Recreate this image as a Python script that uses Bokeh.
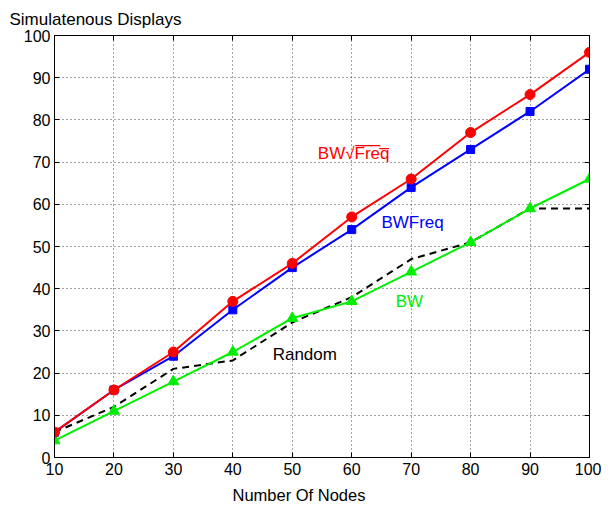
from bokeh.plotting import figure
from bokeh.models import LinearAxis, Range1d, FixedTicker, Label, Title
from bokeh.embed import file_html
from bokeh.resources import INLINE

nodes = [10, 20, 30, 40, 50, 60, 70, 80, 90, 100]
bw_sqrt_freq = [6, 16, 25, 37, 46, 57, 66, 77, 86, 96]
bw_freq = [6, 16, 24, 35, 45, 54, 64, 73, 82, 92]
bw = [4, 11, 18, 25, 33, 37, 44, 51, 59, 66]
random_ = [6, 12, 21, 23, 32, 38, 47, 51, 59, 59]

x_ticks = [10, 20, 30, 40, 50, 60, 70, 80, 90, 100]
y_ticks = [0, 10, 20, 30, 40, 50, 60, 70, 80, 90, 100]

FONT = "Liberation Sans"
GREEN = "#00ee00"

p = figure(frame_width=535, frame_height=422, output_backend="svg", toolbar_location=None,
           x_range=Range1d(10, 100), y_range=Range1d(0, 100),
           min_border_left=54, min_border_right=12, min_border_top=34, min_border_bottom=10)
p.background_fill_color = "white"
p.border_fill_color = "white"
p.outline_line_color = "black"
p.outline_line_width = 1

p.title.text = "Simulatenous Displays"
p.title.text_font = FONT
p.title.text_font_size = "17px"
p.title.text_font_style = "normal"
p.title.text_color = "black"
p.title.align = "left"
p.title.offset = -45
p.title.standoff = 14

for ax in [p.xaxis[0], p.yaxis[0]]:
    ax.major_tick_in = 5
    ax.major_tick_out = 0
    ax.minor_tick_in = 0
    ax.minor_tick_out = 0
    ax.major_label_text_font = FONT
    ax.major_label_text_font_size = "16px"
    ax.major_label_text_color = "black"
    ax.axis_line_color = "black"
    ax.major_tick_line_color = "black"
p.xaxis[0].ticker = FixedTicker(ticks=x_ticks)
p.yaxis[0].ticker = FixedTicker(ticks=y_ticks)
p.xaxis[0].major_label_standoff = 5
p.yaxis[0].major_label_standoff = 4

xlabel = Title(text="Number Of Nodes", align="left", offset=178, text_font=FONT,
               text_font_size="16.5px", text_font_style="normal", text_color="black",
               standoff=12)
p.add_layout(xlabel, "below")

top = LinearAxis(ticker=FixedTicker(ticks=x_ticks), major_tick_in=5, major_tick_out=0,
                 minor_tick_in=0, minor_tick_out=0,
                 major_label_overrides={t: "" for t in x_ticks},
                 major_label_standoff=0, axis_line_color="black")
right = LinearAxis(ticker=FixedTicker(ticks=y_ticks), major_tick_in=5, major_tick_out=0,
                   minor_tick_in=0, minor_tick_out=0,
                   major_label_overrides={t: "" for t in y_ticks},
                   major_label_standoff=0, axis_line_color="black")
p.add_layout(top, "above")
p.add_layout(right, "right")

p.xgrid.ticker = FixedTicker(ticks=x_ticks)
p.ygrid.ticker = FixedTicker(ticks=y_ticks)
for g in [p.xgrid[0], p.ygrid[0]]:
    g.grid_line_color = "#444444"
    g.grid_line_dash = "1 3"
    g.grid_line_width = 1

p.line(nodes, random_, line_color="black", line_width=2, line_dash="7 5")
p.line(nodes, bw, line_color=GREEN, line_width=2)
p.scatter(nodes, bw, marker="triangle", size=11, fill_color=GREEN, line_color=GREEN)
p.line(nodes, bw_freq, line_color="blue", line_width=2)
p.scatter(nodes, bw_freq, marker="square", size=8, fill_color="blue", line_color="blue")
p.line(nodes, bw_sqrt_freq, line_color="red", line_width=2)
p.scatter(nodes, bw_sqrt_freq, marker="circle", size=10, fill_color="red", line_color="red")

labels = [("BW\u221aF\u0305r\u0305e\u0305q\u0305", 54.3, 72, "red"), ("BWFreq", 65.0, 55.7, "blue"),
          ("BW", 67.4, 37, GREEN), ("Random", 46.7, 24.4, "black")]
for txt, lx, ly, col in labels:
    p.add_layout(Label(x=lx, y=ly, text=txt, text_color=col, text_font=FONT,
                       text_font_size="17px", text_baseline="middle", text_align="left"))

open("out.html", "w").write(file_html(p, INLINE))
